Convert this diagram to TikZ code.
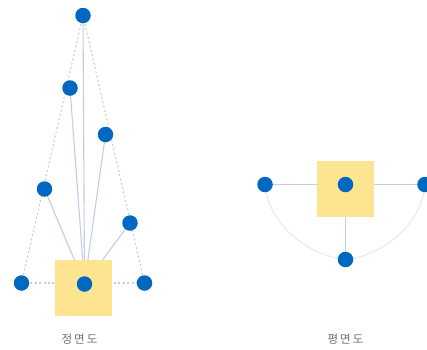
\documentclass[tikz,border=0pt]{standalone}
\usepackage{fontspec}
\newfontfamily\cjk[LetterSpace=18]{Noto Sans CJK KR}
\definecolor{dotblue}{HTML}{0068C0}
\definecolor{sq}{HTML}{FDE490}
\definecolor{solidl}{HTML}{C4CBE6}
\definecolor{dashl}{HTML}{C9CBD6}
\definecolor{arcl}{HTML}{E8E9EC}
\definecolor{lab}{HTML}{707070}
\tikzset{
  x=1pt,y=-1pt,
  dot/.style={circle,fill=dotblue,draw=none,minimum size=15.5pt,inner sep=0pt},
  sqbox/.style={fill=sq,draw=none,minimum width=57pt,minimum height=56pt,inner sep=0pt},
  solidline/.style={draw=solidl,line width=1.1pt},
  dashline/.style={draw=dashl,line width=1.1pt,dash pattern=on 2pt off 2.4pt},
  arcline/.style={draw=arcl,line width=1.1pt},
  labeltext/.style={font=\cjk\fontsize{11.5}{13}\selectfont,text=lab,inner sep=0pt}
}
\begin{document}
\begin{tikzpicture}
\useasboundingbox (0,0) rectangle (427,349);
% coordinates
\coordinate (ft) at (83,15.5);
\coordinate (fa) at (70,88);
\coordinate (fb) at (105.5,134.5);
\coordinate (fc) at (44.5,189);
\coordinate (fd) at (130,223);
\coordinate (fl) at (21.5,283);
\coordinate (fr) at (144.5,283);
\coordinate (fm) at (84.5,284);
\coordinate (pl) at (265,184.5);
\coordinate (pm) at (345.5,184.5);
\coordinate (pr) at (425,184.5);
\coordinate (pb) at (345.5,259.5);
% lines under the boxes
\draw[dashline] (ft) -- (fl);
\draw[dashline] (ft) -- (fr);
\draw[dashline] (fl) -- (fr);
\foreach \n in {ft,fa,fb,fc,fd} \draw[solidline] (\n) -- (fm);
\draw[solidline] (pl) -- (pr);
\draw[solidline] (pm) -- (pb);
\draw[arcline] (pl) .. controls (268,222) and (305,255) .. (pb);
\draw[arcline] (pr) .. controls (422,222) and (386,255) .. (pb);
% boxes
\node[sqbox] (fsq) at (83,287.5) {};
\node[sqbox] (psq) at (345.5,188.5) {};
% dots
\foreach \n in {ft,fa,fb,fc,fd,fl,fr,fm,pl,pm,pr,pb}
  \node[dot] (d\n) at (\n) {};
% labels
\node[labeltext] (lf) at (79.5,339) {정면도};
\node[labeltext] (lp) at (345.5,339) {평면도};
\end{tikzpicture}
\end{document}
